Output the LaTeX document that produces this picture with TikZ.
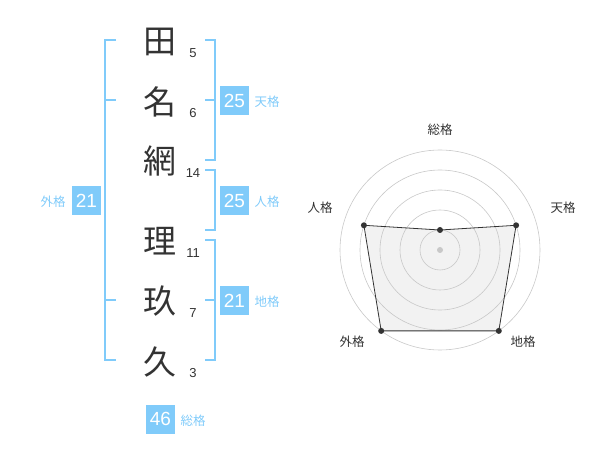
\documentclass[tikz,border=0pt]{standalone}
\usepackage{fontspec}
\setmainfont{Liberation Sans}
\newfontfamily\cjk{Noto Sans CJK JP}
\definecolor{bl}{RGB}{128,203,250}
\definecolor{dk}{RGB}{51,51,51}
\definecolor{gr}{RGB}{200,200,200}
\begin{document}
\begin{tikzpicture}[x=1pt,y=-1pt,
  kan/.style={text=dk,font=\cjk\fontsize{33}{33}\selectfont,inner sep=0pt},
  num/.style={text=dk,font=\fontsize{13}{13}\selectfont,inner sep=0pt},
  brk/.style={draw=bl,line width=2pt},
  score/.style={fill=bl,text=white,font=\fontsize{19}{19}\selectfont,minimum width=29pt,minimum height=29pt,inner sep=0pt},
  lab/.style={text=bl,font=\cjk\fontsize{12.5}{12.5}\selectfont,inner sep=0pt},
  rlab/.style={text=dk,font=\cjk\fontsize{12.5}{12.5}\selectfont,inner sep=0pt},
  ring/.style={draw=gr,line width=0.6pt},
  dot/.style={circle,fill=dk,inner sep=0pt,minimum size=6pt}]
\useasboundingbox (0,0) rectangle (600,470);
% characters
\node[kan] (k1) at (160,42) {田};
\node[kan] (k2) at (160,102) {名};
\node[kan] (k3) at (160,161) {網};
\node[kan] (k4) at (160,241) {理};
\node[kan] (k5) at (160,301) {玖};
\node[kan] (k6) at (160,362) {久};
\node[num] (n1) at (193,53) {5};
\node[num] (n2) at (193,113) {6};
\node[num] (n3) at (193,173) {14};
\node[num] (n4) at (193,253) {11};
\node[num] (n5) at (193,313) {7};
\node[num] (n6) at (193,373) {3};
% left bracket (gaikaku)
\coordinate (g1) at (116,40);
\coordinate (g2) at (105,40);
\coordinate (g3) at (105,360);
\coordinate (g4) at (116,360);
\coordinate (gm1a) at (105,100);
\coordinate (gm1b) at (116,100);
\coordinate (gm2a) at (105,300);
\coordinate (gm2b) at (116,300);
\draw[brk] (g1) -- (g2) -- (g3) -- (g4);
\draw[brk] (gm1a) -- (gm1b);
\draw[brk] (gm2a) -- (gm2b);
\node[score] (sg) at (86.5,200.5) {21};
\node[lab] (lg) at (53,202) {外格};
% tenkaku bracket
\coordinate (t1) at (205,40);
\coordinate (t2) at (215,40);
\coordinate (t3) at (215,160);
\coordinate (t4) at (205,160);
\coordinate (tma) at (205,100);
\coordinate (tmb) at (215,100);
\draw[brk] (t1) -- (t2) -- (t3) -- (t4);
\draw[brk] (tma) -- (tmb);
\node[score] (st) at (234.5,100.5) {25};
\node[lab] (lt) at (267,102) {天格};
% jinkaku bracket
\coordinate (j1) at (205,170);
\coordinate (j2) at (215,170);
\coordinate (j3) at (215,230);
\coordinate (j4) at (205,230);
\draw[brk] (j1) -- (j2) -- (j3) -- (j4);
\node[score] (sj) at (234.5,200.5) {25};
\node[lab] (lj) at (267,202) {人格};
% chikaku bracket
\coordinate (c1) at (205,240);
\coordinate (c2) at (215,240);
\coordinate (c3) at (215,360);
\coordinate (c4) at (205,360);
\coordinate (cma) at (205,300);
\coordinate (cmb) at (215,300);
\draw[brk] (c1) -- (c2) -- (c3) -- (c4);
\draw[brk] (cma) -- (cmb);
\node[score] (sc) at (234.5,300.5) {21};
\node[lab] (lc) at (267,302) {地格};
% soukaku
\node[score] (ss) at (160.5,419) {46};
\node[lab] (ls) at (193,421) {総格};
% radar
\coordinate (O) at (440,250);
\coordinate (p1) at (440,230);
\coordinate (p2) at (516.1,225.3);
\coordinate (p3) at (498.8,330.9);
\coordinate (p4) at (381.2,330.9);
\coordinate (p5) at (363.9,225.3);
\fill[black!5] (p1) -- (p2) -- (p3) -- (p4) -- (p5) -- cycle;
\foreach \r in {20,40,60,80,100} \draw[ring] (O) circle[radius=\r pt];
\fill[gr] (O) circle[radius=3pt];
\draw[draw=dk,line width=0.8pt] (p1) -- (p2) -- (p3) -- (p4) -- (p5) -- cycle;
\foreach \p in {p1,p2,p3,p4,p5} \node[dot] at (\p) {};
\node[rlab] (r1) at (440,130) {総格};
\node[rlab] (r2) at (563,208) {天格};
\node[rlab] (r3) at (523,342) {地格};
\node[rlab] (r4) at (352,342) {外格};
\node[rlab] (r5) at (320,208) {人格};
\end{tikzpicture}
\end{document}
